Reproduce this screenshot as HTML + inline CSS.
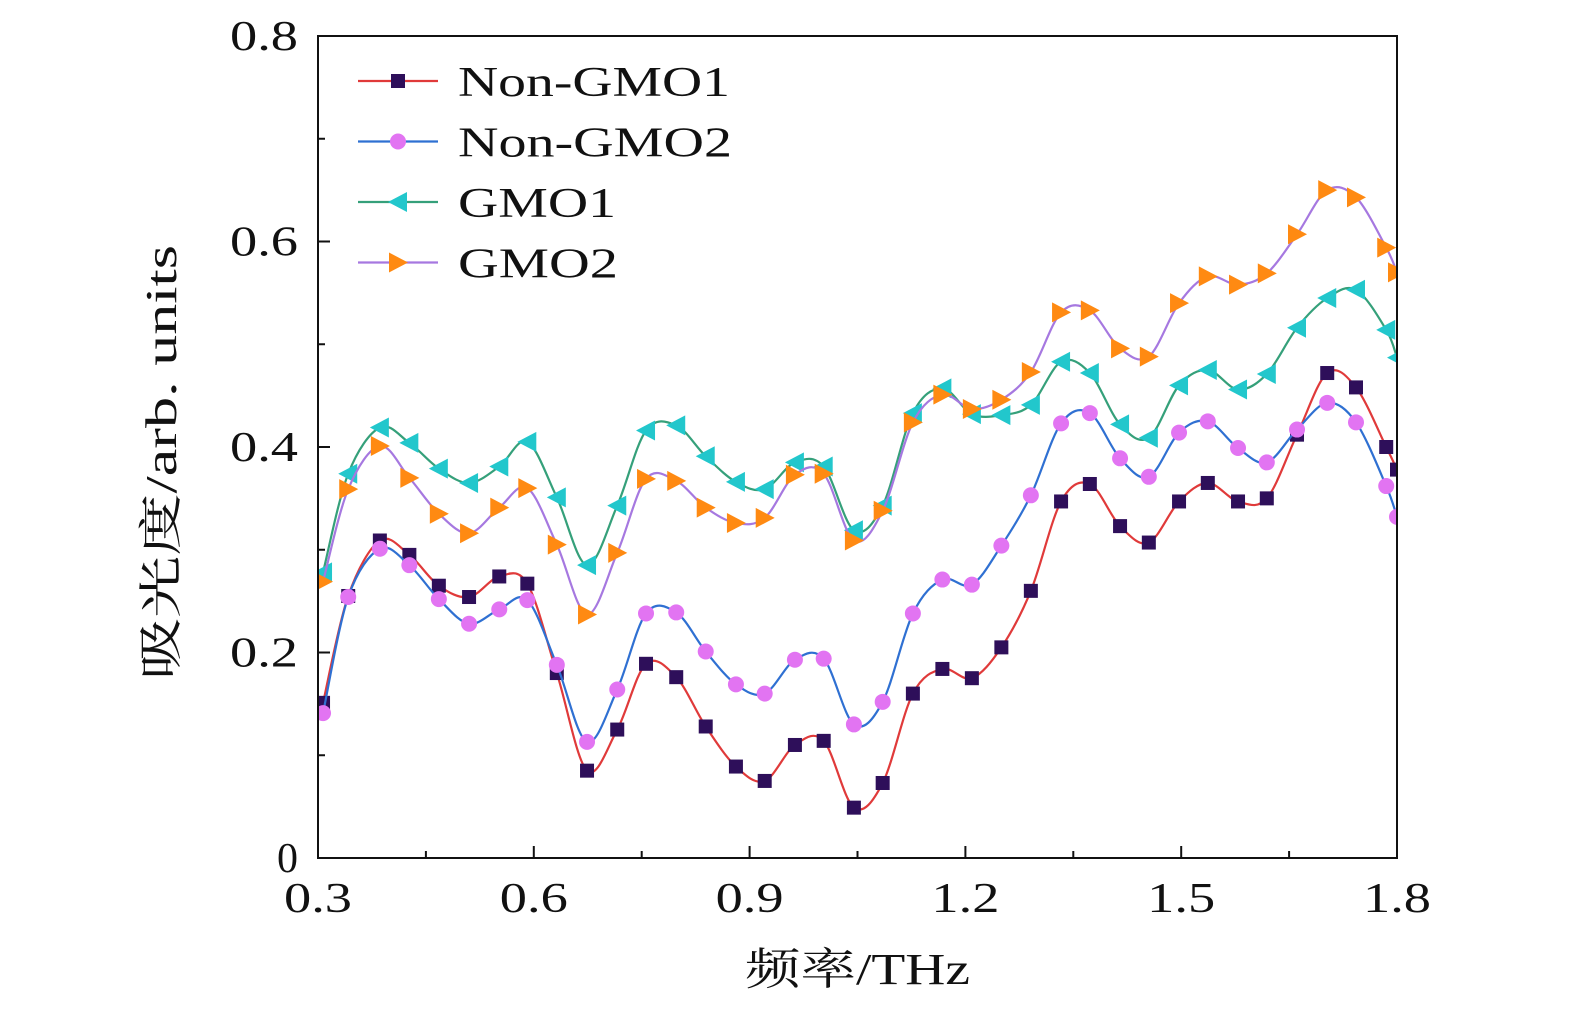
<!DOCTYPE html>
<html><head><meta charset="utf-8"><style>
html,body{margin:0;padding:0;background:#fff;}
svg text{font-family:"Liberation Serif","Noto Serif CJK SC",serif;fill:#111;}
</style></head><body>
<svg id="chart" width="1575" height="1014" viewBox="0 0 1575 1014" xmlns="http://www.w3.org/2000/svg"></svg>
<script>
const freqs=[0.307,0.342,0.386,0.427,0.468,0.510,0.552,0.591,0.632,0.674,0.716,0.756,0.798,0.839,0.881,0.921,0.963,1.003,1.045,1.085,1.127,1.168,1.209,1.250,1.291,1.333,1.373,1.415,1.455,1.497,1.537,1.579,1.619,1.661,1.703,1.743,1.785,1.800];
const nonGmo1=[0.151,0.255,0.309,0.295,0.265,0.254,0.274,0.267,0.180,0.085,0.125,0.189,0.176,0.128,0.089,0.075,0.110,0.114,0.049,0.073,0.160,0.184,0.175,0.205,0.260,0.347,0.364,0.323,0.307,0.347,0.365,0.347,0.350,0.412,0.472,0.458,0.400,0.378];
const nonGmo2=[0.141,0.254,0.301,0.285,0.252,0.228,0.242,0.251,0.188,0.113,0.164,0.238,0.239,0.201,0.169,0.160,0.193,0.194,0.130,0.152,0.238,0.271,0.266,0.304,0.353,0.423,0.433,0.389,0.371,0.414,0.425,0.399,0.385,0.417,0.443,0.424,0.362,0.332];
const gmo1=[0.278,0.374,0.419,0.404,0.379,0.365,0.381,0.405,0.351,0.285,0.343,0.416,0.421,0.391,0.366,0.359,0.385,0.381,0.319,0.343,0.433,0.457,0.432,0.431,0.441,0.483,0.472,0.422,0.409,0.460,0.475,0.456,0.471,0.516,0.545,0.553,0.514,0.487];
const gmo2=[0.269,0.359,0.401,0.370,0.335,0.316,0.341,0.360,0.305,0.237,0.297,0.369,0.367,0.341,0.326,0.331,0.373,0.374,0.309,0.338,0.424,0.451,0.437,0.446,0.473,0.531,0.533,0.496,0.488,0.540,0.566,0.558,0.569,0.607,0.650,0.643,0.594,0.570];
const xTicks=[0.3,0.6,0.9,1.2,1.5,1.8];
const xTickLabels=["0.3","0.6","0.9","1.2","1.5","1.8"];
const yTicks=[0,0.2,0.4,0.6,0.8];
const yTickLabels=["0","0.2","0.4","0.6","0.8"];
const seriesNames=["Non-GMO1","Non-GMO2","GMO1","GMO2"];

const L=318,R=1397,T=36,B=858;
const xs=v=>L+(v-0.3)/1.5*(R-L);
const ys=v=>B-v/0.8*(B-T);
const svg=document.getElementById('chart');
const NS='http://www.w3.org/2000/svg';
function mk(tag,attrs,parent){const e=document.createElementNS(NS,tag);for(const k in attrs)e.setAttribute(k,attrs[k]);(parent||svg).appendChild(e);return e;}

const defs=mk('defs',{});const cp=mk('clipPath',{id:'clip'},defs);mk('rect',{x:L,y:T,width:R-L,height:B-T},cp);

function spline(xv,yv){
  const p=xv.map((x,i)=>[xs(x),ys(yv[i])]);
  let d='M'+p[0][0]+','+p[0][1];
  for(let i=0;i<p.length-1;i++){
    const p0=p[i-1]||p[i],p1=p[i],p2=p[i+1],p3=p[i+2]||p2;
    const c1=[p1[0]+(p2[0]-p0[0])/6,p1[1]+(p2[1]-p0[1])/6];
    const c2=[p2[0]-(p3[0]-p1[0])/6,p2[1]-(p3[1]-p1[1])/6];
    d+=` C${c1[0]},${c1[1]} ${c2[0]},${c2[1]} ${p2[0]},${p2[1]}`;
  }
  return d;
}
function marker(type,cx,cy,fill,g){
  if(type==='sq')return mk('rect',{x:cx-7,y:cy-7,width:14,height:14,fill:fill},g);
  if(type==='ci')return mk('circle',{cx:cx,cy:cy,r:8,fill:fill},g);
  if(type==='tl')return mk('polygon',{points:`${cx-10},${cy} ${cx+9},${cy-10} ${cx+9},${cy+10}`,fill:fill},g);
  return mk('polygon',{points:`${cx+10},${cy} ${cx-9},${cy-10} ${cx-9},${cy+10}`,fill:fill},g);
}
const series=[[nonGmo1,'#e03a3a','sq','#2e0f5a','series-non-gmo1'],[nonGmo2,'#2f70d2','ci','#e274f2','series-non-gmo2'],[gmo1,'#35a07a','tl','#22c7cc','series-gmo1'],[gmo2,'#a678e0','tr','#ff8a12','series-gmo2']];
series.forEach(s=>{
  const g=mk('g',{'clip-path':'url(#clip)'});
  
  
  const path=mk('path',{d:spline(freqs,s[0]),fill:'none',stroke:s[1],'stroke-width':2.2},g);
  
  
  s[0].forEach((v,i)=>{
    const m=marker(s[2],xs(freqs[i]),ys(v),s[3],g);
    
    
  });
});

const fr=mk('rect',{x:L,y:T,width:R-L,height:B-T,fill:'none',stroke:'#111','stroke-width':2});


xTicks.forEach((v,i)=>{
  mk('line',{x1:xs(v),x2:xs(v),y1:B,y2:B-12,stroke:'#111','stroke-width':2});
  if(i<xTicks.length-1)mk('line',{x1:xs(v+0.15),x2:xs(v+0.15),y1:B,y2:B-7,stroke:'#111','stroke-width':2});
  const t=mk('text',{x:xs(v),y:912,'text-anchor':'middle','font-size':42,textLength:68,lengthAdjust:'spacingAndGlyphs'});
  t.textContent=xTickLabels[i];
  
  
});
yTicks.forEach((v,i)=>{
  mk('line',{x1:L,x2:L+12,y1:ys(v),y2:ys(v),stroke:'#111','stroke-width':2});
  if(i<yTicks.length-1)mk('line',{x1:L,x2:L+7,y1:ys(v+0.1),y2:ys(v+0.1),stroke:'#111','stroke-width':2});
  const attrs={x:298,y:ys(v)+14,'text-anchor':'end','font-size':42};
  if(yTickLabels[i].length>1){attrs.textLength=68;attrs.lengthAdjust='spacingAndGlyphs';}
  const t=mk('text',attrs);
  t.textContent=yTickLabels[i];
  
  
});
const xt=mk('text',{x:745,y:984,'font-size':44,textLength:225,lengthAdjust:'spacingAndGlyphs'});
xt.textContent='频率/THz';


const yt=mk('text',{x:0,y:0,'font-size':44,textLength:435,lengthAdjust:'spacingAndGlyphs',transform:'translate(176,680) rotate(-90)'});
yt.textContent='吸光度/arb. units';



const legendWidths=[272,274,158,160];
const lg=mk('g',{});


series.forEach((s,i)=>{
  const y=81+i*60.5;
  const e=mk('g',{},lg);
  
  
  mk('line',{x1:358,x2:438,y1:y,y2:y,stroke:s[1],'stroke-width':2.2},e);
  marker(s[2],398,y,s[3],e);
  const t=mk('text',{x:458,y:y+15,'font-size':42,textLength:legendWidths[i],lengthAdjust:'spacingAndGlyphs'},e);
  t.textContent=seriesNames[i];
});
</script>
</body></html>
